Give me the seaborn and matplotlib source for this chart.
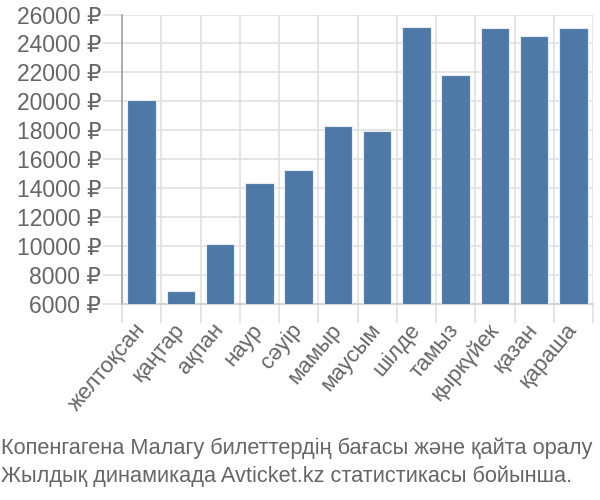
import matplotlib
matplotlib.use("Agg")
import matplotlib.pyplot as plt
import seaborn as sns
import pandas as pd
from matplotlib.ticker import FuncFormatter, FixedLocator

months = ["желтоқсан", "қаңтар", "ақпан", "наур", "сәуір", "мамыр",
          "маусым", "шілде", "тамыз", "қыркүйек", "қазан", "қараша"]
prices = [20100, 6880, 10120, 14360, 15280, 18320,
          17950, 25160, 21820, 25050, 24510, 25050]
yticks = list(range(6000, 26001, 2000))
caption = ["Копенгагена Малагу билеттердің бағасы және қайта оралу",
           "Жылдық динамикада Avticket.kz статистикасы бойынша."]

sns.set_theme(style="white")
plt.rcParams['font.family'] = ['Liberation Sans', 'DejaVu Sans']

df = pd.DataFrame({"month": months, "price": prices})

fig = plt.figure(figsize=(6, 5), dpi=100)
ax = fig.add_axes([122/600, 1-304/500, (593-122)/600, (304-14.5)/500])

sns.barplot(data=df, x="month", y="price", color="#4e79a7", saturation=1,
            width=0.72, edgecolor="#e6ecf3", linewidth=0.8, ax=ax, zorder=3)

ax.set_ylim(6000, 26000)
ax.set_xlim(-0.5, len(months) - 0.5)
ax.set_yticks(yticks)
ax.yaxis.set_major_formatter(FuncFormatter(lambda v, p: f"{int(v)} ₽"))
ax.xaxis.set_minor_locator(FixedLocator([i - 0.5 for i in range(len(months) + 1)]))
ax.grid(True, which="major", axis="y", color="#e0e0e0", linewidth=1.2, zorder=0)
ax.grid(True, which="minor", axis="x", color="#e0e0e0", linewidth=1.2, zorder=0)
ax.set_axisbelow(True)
ax.set_xlabel("")
ax.set_ylabel("")
ax.tick_params(axis="y", which="major", length=14, width=1.2, color="#e0e0e0",
               labelsize=16.5, labelcolor="#666666", pad=1, left=True)
ax.tick_params(axis="x", which="major", length=0, labelsize=16, labelcolor="#666666", pad=16)
ax.tick_params(axis="x", which="minor", length=14, width=1.2, color="#e0e0e0", bottom=True)
for lbl in ax.get_xticklabels():
    lbl.set_rotation(50)
    lbl.set_ha("right")
    lbl.set_va("center")
    lbl.set_rotation_mode("anchor")
for s in ["top", "right"]:
    ax.spines[s].set_visible(False)
ax.spines["left"].set_color("#a0a0a0")
ax.spines["left"].set_linewidth(1.2)
ax.spines["bottom"].set_color("#cccccc")
ax.spines["bottom"].set_linewidth(1.2)
first_minor = ax.xaxis.get_minor_ticks()[0]
first_minor.tick1line.set_color("#a0a0a0")

fig.text(1/600, 1-454/500, caption[0], fontsize=15.7, color="#666666",
         va="baseline", ha="left")
fig.text(1/600, 1-482/500, caption[1], fontsize=15.7, color="#666666",
         va="baseline", ha="left")

fig.savefig("out.png", dpi=100)
